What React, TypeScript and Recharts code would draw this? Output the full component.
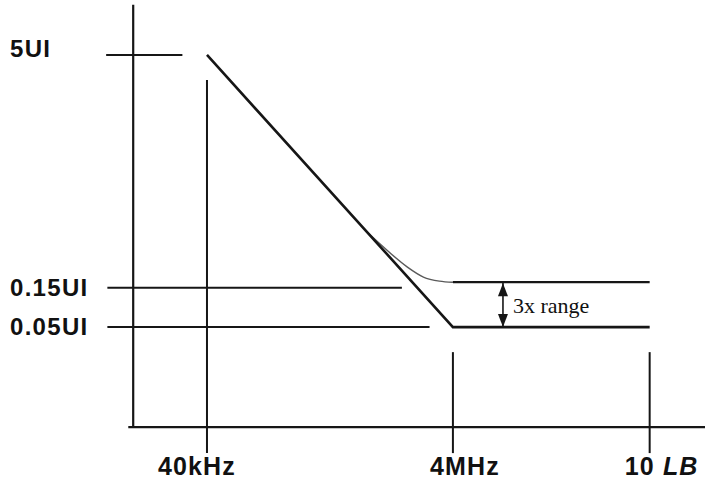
import {
  ComposedChart,
  Line,
  Scatter,
  XAxis,
  YAxis,
  ReferenceLine,
} from 'recharts';

// x: decades above 40 kHz, y: schematic level (0 = 0.05UI, 2 = 5UI)
const xTicks = [0, 2, 3.6];
const xTickLabels = ['40kHz', '4MHz', '10 LB'];
const yTicks = [0, 0.29, 2];
const yTickLabels = ['0.05UI', '0.15UI', '5UI'];

// mask lines
const maskLower = [
  { x: 0, y: 2 },
  { x: 2, y: 0 },
  { x: 3.6, y: 0 },
];
const maskUpperFlat = [
  { x: 2, y: 0.33 },
  { x: 3.6, y: 0.33 },
];
const maskUpperCurve = [
  { x: 1.3, y: 0.7 },
  { x: 1.39, y: 0.625 },
  { x: 1.49, y: 0.544 },
  { x: 1.63, y: 0.441 },
  { x: 1.76, y: 0.368 },
  { x: 1.89, y: 0.338 },
  { x: 2.0, y: 0.33 },
];

// drawn axes and guide segments [x1, y1, x2, y2]
const axisLines = [
  [-0.6, 2.37, -0.6, -0.735],
  [-0.64, -0.735, 4.05, -0.735],
];
const guideLines = [
  [-0.82, 2, -0.2, 2],
  [-0.81, 0.29, 1.585, 0.29],
  [-0.81, 0, 1.81, 0],
  [0, 1.816, 0, -0.926],
  [2, -0.184, 2, -0.926],
  [3.6, -0.184, 3.6, -0.926],
];

// "3x range" arrow
const rangeX = 2.407;
const rangeTop = 0.33;
const rangeBottom = 0;
const arrowHeads = [
  { x: rangeX, y: rangeTop, dir: 'up' },
  { x: rangeX, y: rangeBottom, dir: 'down' },
];
const rangeNote = [{ x: rangeX, y: 0.16, text: '3x range' }];

const INK = '#161616';
const LABEL_FONT = '"Liberation Sans", Arial, sans-serif';

function YTick(props: any) {
  const { x, y, payload } = props;
  const idx = yTicks.indexOf(payload.value);
  const label = yTickLabels[idx];
  const dy = label === '5UI' ? 2 : 8;
  return (
    <text
      x={x - 90}
      y={y + dy}
      textAnchor="start"
      fontFamily={LABEL_FONT}
      fontWeight="bold"
      fontSize={24}
      letterSpacing={1.3}
      fill="#111"
    >
      {label}
    </text>
  );
}

function XTick(props: any) {
  const { x, y, payload } = props;
  const idx = xTicks.indexOf(payload.value);
  const label = xTickLabels[idx];
  const dx = idx === 0 ? -10 : 12;
  const common = {
    fontFamily: LABEL_FONT,
    fontWeight: 'bold' as const,
    fontSize: 25,
    letterSpacing: 1.1,
    fill: '#111',
  };
  if (label === '10 LB') {
    return (
      <text x={x + dx} y={y + 20} textAnchor="middle" {...common}>
        <tspan>10 </tspan>
        <tspan fontStyle="italic">LB</tspan>
      </text>
    );
  }
  return (
    <text x={x + dx} y={y + 20} textAnchor="middle" {...common}>
      {label}
    </text>
  );
}

function ArrowHead(props: any) {
  const { cx, cy, payload } = props;
  if (payload.dir === 'up') {
    return (
      <polygon
        points={`${cx},${cy + 1} ${cx - 5},${cy + 14} ${cx + 5},${cy + 14}`}
        fill={INK}
      />
    );
  }
  return (
    <polygon
      points={`${cx},${cy} ${cx - 5},${cy - 13} ${cx + 5},${cy - 13}`}
      fill={INK}
    />
  );
}

function NoteText(props: any) {
  const { cx, cy, payload } = props;
  return (
    <text
      x={cx + 10}
      y={cy + 8}
      fontFamily='"Liberation Serif", "Times New Roman", serif'
      fontSize={22}
      fill="#111"
    >
      {payload.text}
    </text>
  );
}

export default function App() {
  return (
    <div style={{ position: 'absolute', left: 0, top: 0 }}>
      <ComposedChart
        width={705}
        height={480}
        margin={{ top: 0, right: 0, bottom: 0, left: 0 }}
      >
        <XAxis
          dataKey="x"
          type="number"
          domain={[-0.87, 4.05]}
          allowDataOverflow
          ticks={xTicks}
          interval={0}
          height={25}
          axisLine={false}
          tickLine={false}
          tickSize={0}
          tickMargin={0}
          tick={<XTick />}
        />
        <YAxis
          dataKey="y"
          type="number"
          domain={[-0.94, 2.404]}
          allowDataOverflow
          ticks={yTicks}
          interval={0}
          width={100}
          axisLine={false}
          tickLine={false}
          tickSize={0}
          tickMargin={0}
          tick={<YTick />}
        />

        {axisLines.map((s, i) => (
          <ReferenceLine
            key={`axis-${i}`}
            segment={[
              { x: s[0], y: s[1] },
              { x: s[2], y: s[3] },
            ]}
            stroke={INK}
            strokeWidth={2.2}
            ifOverflow="visible"
          />
        ))}
        {guideLines.map((s, i) => (
          <ReferenceLine
            key={`guide-${i}`}
            segment={[
              { x: s[0], y: s[1] },
              { x: s[2], y: s[3] },
            ]}
            stroke={INK}
            strokeWidth={2}
            ifOverflow="visible"
          />
        ))}
        <ReferenceLine
          segment={[
            { x: rangeX, y: rangeTop },
            { x: rangeX, y: rangeBottom },
          ]}
          stroke={INK}
          strokeWidth={1.6}
        />

        <Line
          data={maskUpperCurve}
          dataKey="y"
          type="monotone"
          stroke="#5a5a5a"
          strokeWidth={1.4}
          dot={false}
          activeDot={false}
          isAnimationActive={false}
        />
        <Line
          data={maskUpperFlat}
          dataKey="y"
          type="linear"
          stroke={INK}
          strokeWidth={2.2}
          dot={false}
          activeDot={false}
          isAnimationActive={false}
        />
        <Line
          data={maskLower}
          dataKey="y"
          type="linear"
          stroke={INK}
          strokeWidth={2.6}
          dot={false}
          activeDot={false}
          isAnimationActive={false}
        />
        <Scatter
          data={arrowHeads}
          dataKey="y"
          shape={<ArrowHead />}
          isAnimationActive={false}
        />
        <Scatter
          data={rangeNote}
          dataKey="y"
          shape={<NoteText />}
          isAnimationActive={false}
        />
      </ComposedChart>
    </div>
  );
}
